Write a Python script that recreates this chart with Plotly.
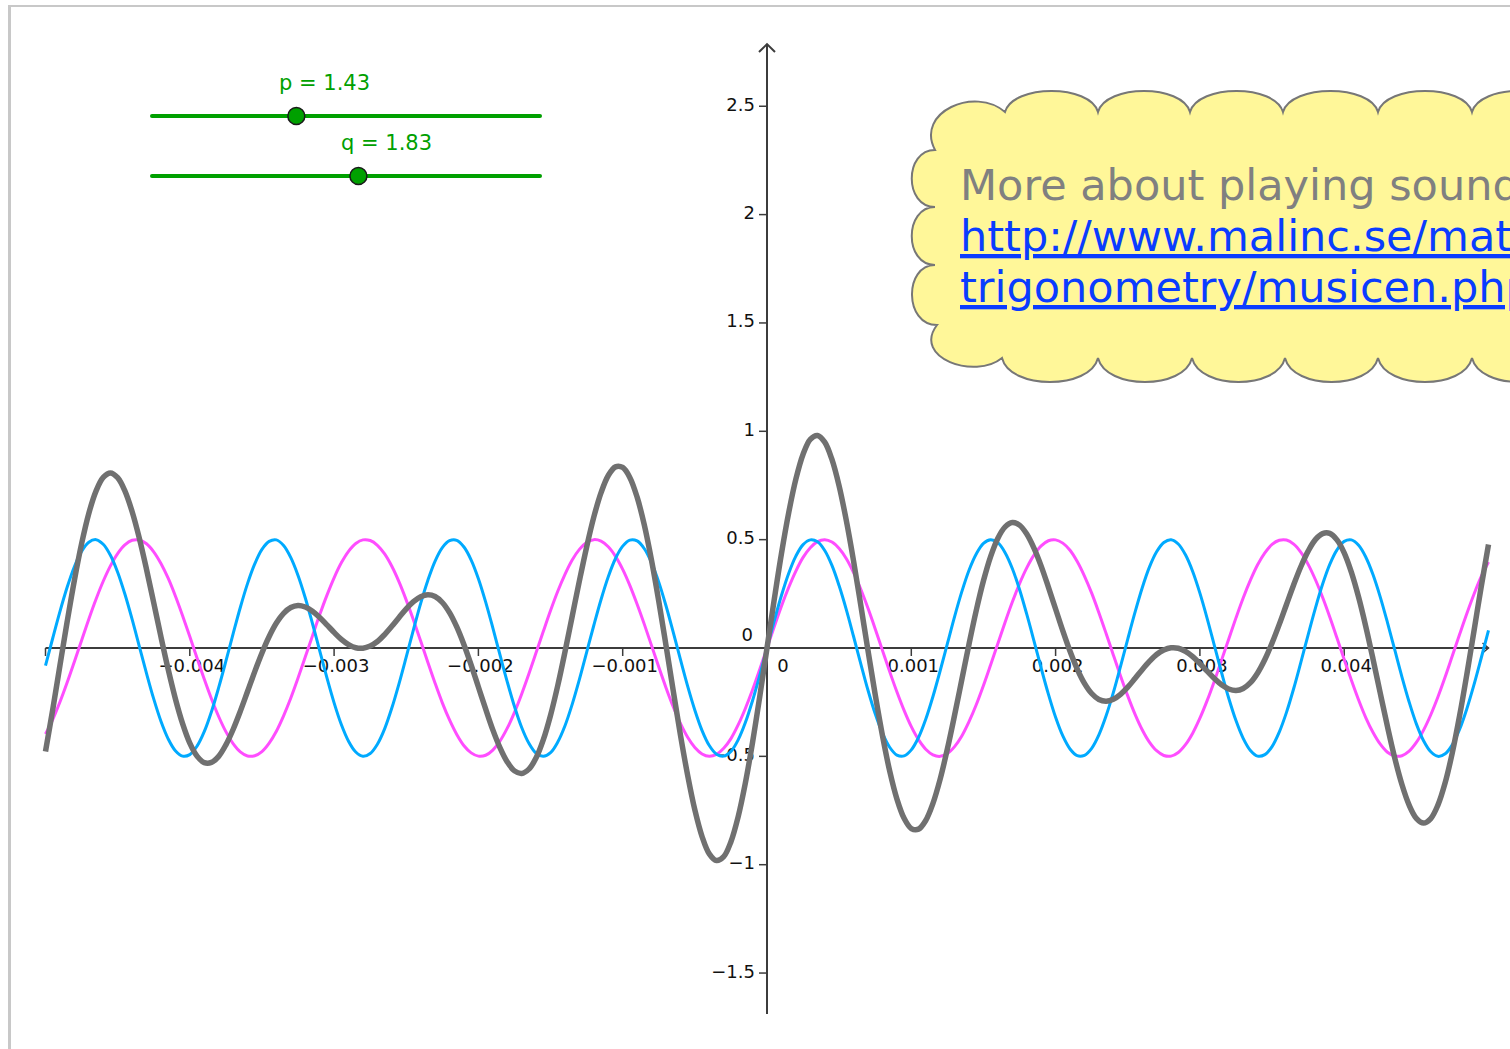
import plotly.graph_objects as go

# ---------------- data ----------------
t = [-0.00500, -0.00495, -0.00490, -0.00485, -0.00480, -0.00475, -0.00470, -0.00465, -0.00460, -0.00455,
     -0.00450, -0.00445, -0.00440, -0.00435, -0.00430, -0.00425, -0.00420, -0.00415, -0.00410, -0.00405,
     -0.00400, -0.00395, -0.00390, -0.00385, -0.00380, -0.00375, -0.00370, -0.00365, -0.00360, -0.00355,
     -0.00350, -0.00345, -0.00340, -0.00335, -0.00330, -0.00325, -0.00320, -0.00315, -0.00310, -0.00305,
     -0.00300, -0.00295, -0.00290, -0.00285, -0.00280, -0.00275, -0.00270, -0.00265, -0.00260, -0.00255,
     -0.00250, -0.00245, -0.00240, -0.00235, -0.00230, -0.00225, -0.00220, -0.00215, -0.00210, -0.00205,
     -0.00200, -0.00195, -0.00190, -0.00185, -0.00180, -0.00175, -0.00170, -0.00165, -0.00160, -0.00155,
     -0.00150, -0.00145, -0.00140, -0.00135, -0.00130, -0.00125, -0.00120, -0.00115, -0.00110, -0.00105,
     -0.00100, -0.00095, -0.00090, -0.00085, -0.00080, -0.00075, -0.00070, -0.00065, -0.00060, -0.00055,
     -0.00050, -0.00045, -0.00040, -0.00035, -0.00030, -0.00025, -0.00020, -0.00015, -0.00010, -0.00005,
     0.00000, 0.00005, 0.00010, 0.00015, 0.00020, 0.00025, 0.00030, 0.00035, 0.00040, 0.00045,
     0.00050, 0.00055, 0.00060, 0.00065, 0.00070, 0.00075, 0.00080, 0.00085, 0.00090, 0.00095,
     0.00100, 0.00105, 0.00110, 0.00115, 0.00120, 0.00125, 0.00130, 0.00135, 0.00140, 0.00145,
     0.00150, 0.00155, 0.00160, 0.00165, 0.00170, 0.00175, 0.00180, 0.00185, 0.00190, 0.00195,
     0.00200, 0.00205, 0.00210, 0.00215, 0.00220, 0.00225, 0.00230, 0.00235, 0.00240, 0.00245,
     0.00250, 0.00255, 0.00260, 0.00265, 0.00270, 0.00275, 0.00280, 0.00285, 0.00290, 0.00295,
     0.00300, 0.00305, 0.00310, 0.00315, 0.00320, 0.00325, 0.00330, 0.00335, 0.00340, 0.00345,
     0.00350, 0.00355, 0.00360, 0.00365, 0.00370, 0.00375, 0.00380, 0.00385, 0.00390, 0.00395,
     0.00400, 0.00405, 0.00410, 0.00415, 0.00420, 0.00425, 0.00430, 0.00435, 0.00440, 0.00445,
     0.00450, 0.00455, 0.00460, 0.00465, 0.00470, 0.00475, 0.00480, 0.00485, 0.00490, 0.00495,
     0.00500]

tone_p = [-0.397, -0.330, -0.249, -0.159, -0.063, 0.035, 0.133, 0.225, 0.308, 0.379,
          0.436, 0.476, 0.497, 0.498, 0.481, 0.444, 0.390, 0.322, 0.240, 0.149,
          0.053, -0.046, -0.143, -0.234, -0.316, -0.386, -0.441, -0.479, -0.498, -0.497,
          -0.478, -0.439, -0.384, -0.313, -0.231, -0.139, -0.042, 0.056, 0.153, 0.243,
          0.324, 0.393, 0.446, 0.482, 0.499, 0.496, 0.474, 0.434, 0.377, 0.305,
          0.221, 0.129, 0.032, -0.067, -0.163, -0.253, -0.332, -0.399, -0.451, -0.484,
          -0.499, -0.495, -0.471, -0.429, -0.370, -0.297, -0.212, -0.119, -0.021, 0.077,
          0.173, 0.262, 0.340, 0.406, 0.455, 0.487, 0.500, 0.493, 0.467, 0.423,
          0.363, 0.288, 0.202, 0.109, 0.011, -0.088, -0.183, -0.271, -0.348, -0.412,
          -0.459, -0.489, -0.500, -0.491, -0.463, -0.418, -0.355, -0.279, -0.193, -0.098,
          0.000, 0.098, 0.193, 0.279, 0.355, 0.418, 0.463, 0.491, 0.500, 0.489,
          0.459, 0.412, 0.348, 0.271, 0.183, 0.088, -0.011, -0.109, -0.202, -0.288,
          -0.363, -0.423, -0.467, -0.493, -0.500, -0.487, -0.455, -0.406, -0.340, -0.262,
          -0.173, -0.077, 0.021, 0.119, 0.212, 0.297, 0.370, 0.429, 0.471, 0.495,
          0.499, 0.484, 0.451, 0.399, 0.332, 0.253, 0.163, 0.067, -0.032, -0.129,
          -0.221, -0.305, -0.377, -0.434, -0.474, -0.496, -0.499, -0.482, -0.446, -0.393,
          -0.324, -0.243, -0.153, -0.056, 0.042, 0.139, 0.231, 0.313, 0.384, 0.439,
          0.478, 0.497, 0.498, 0.479, 0.441, 0.386, 0.316, 0.234, 0.143, 0.046,
          -0.053, -0.149, -0.240, -0.322, -0.390, -0.444, -0.481, -0.498, -0.497, -0.476,
          -0.436, -0.379, -0.308, -0.225, -0.133, -0.035, 0.063, 0.159, 0.249, 0.330,
          0.397]

tone_q = [-0.081, 0.045, 0.168, 0.280, 0.375, 0.446, 0.488, 0.500, 0.479, 0.428,
          0.350, 0.249, 0.133, 0.008, -0.117, -0.235, -0.338, -0.419, -0.474, -0.499,
          -0.492, -0.453, -0.386, -0.294, -0.183, -0.061, 0.065, 0.187, 0.297, 0.388,
          0.455, 0.492, 0.499, 0.473, 0.417, 0.335, 0.232, 0.113, -0.012, -0.137,
          -0.253, -0.353, -0.430, -0.480, -0.500, -0.487, -0.444, -0.373, -0.277, -0.164,
          -0.041, 0.085, 0.206, 0.313, 0.401, 0.463, 0.495, 0.497, 0.466, 0.406,
          0.320, 0.213, 0.093, -0.033, -0.156, -0.270, -0.367, -0.440, -0.486, -0.500,
          -0.483, -0.434, -0.359, -0.260, -0.145, -0.020, 0.105, 0.224, 0.329, 0.413,
          0.470, 0.498, 0.494, 0.458, 0.393, 0.304, 0.195, 0.073, -0.053, -0.176,
          -0.287, -0.381, -0.450, -0.490, -0.499, -0.477, -0.424, -0.344, -0.242, -0.125,
          0.000, 0.125, 0.242, 0.344, 0.424, 0.477, 0.499, 0.490, 0.450, 0.381,
          0.287, 0.176, 0.053, -0.073, -0.195, -0.304, -0.393, -0.458, -0.494, -0.498,
          -0.470, -0.413, -0.329, -0.224, -0.105, 0.020, 0.145, 0.260, 0.359, 0.434,
          0.483, 0.500, 0.486, 0.440, 0.367, 0.270, 0.156, 0.033, -0.093, -0.213,
          -0.320, -0.406, -0.466, -0.497, -0.495, -0.463, -0.401, -0.313, -0.206, -0.085,
          0.041, 0.164, 0.277, 0.373, 0.444, 0.487, 0.500, 0.480, 0.430, 0.353,
          0.253, 0.137, 0.012, -0.113, -0.232, -0.335, -0.417, -0.473, -0.499, -0.492,
          -0.455, -0.388, -0.297, -0.187, -0.065, 0.061, 0.183, 0.294, 0.386, 0.453,
          0.492, 0.499, 0.474, 0.419, 0.338, 0.235, 0.117, -0.008, -0.133, -0.249,
          -0.350, -0.428, -0.479, -0.500, -0.488, -0.446, -0.375, -0.280, -0.168, -0.045,
          0.081]

tone_sum = [-0.478, -0.285, -0.081, 0.121, 0.312, 0.481, 0.621, 0.724, 0.787, 0.808,
            0.786, 0.725, 0.630, 0.507, 0.363, 0.209, 0.052, -0.098, -0.234, -0.349,
            -0.439, -0.499, -0.529, -0.528, -0.500, -0.447, -0.376, -0.292, -0.201, -0.109,
            -0.023, 0.053, 0.115, 0.160, 0.187, 0.196, 0.189, 0.170, 0.141, 0.107,
            0.072, 0.040, 0.016, 0.001, -0.001, 0.009, 0.030, 0.062, 0.100, 0.141,
            0.181, 0.214, 0.237, 0.246, 0.238, 0.210, 0.163, 0.097, 0.015, -0.079,
            -0.180, -0.281, -0.378, -0.461, -0.526, -0.567, -0.579, -0.559, -0.507, -0.423,
            -0.310, -0.173, -0.018, 0.146, 0.310, 0.466, 0.605, 0.717, 0.796, 0.836,
            0.833, 0.786, 0.696, 0.567, 0.404, 0.216, 0.012, -0.197, -0.401, -0.587,
            -0.747, -0.870, -0.950, -0.981, -0.963, -0.894, -0.779, -0.623, -0.435, -0.223,
            0.000, 0.223, 0.435, 0.623, 0.779, 0.894, 0.963, 0.981, 0.950, 0.870,
            0.747, 0.587, 0.401, 0.197, -0.012, -0.216, -0.404, -0.567, -0.696, -0.786,
            -0.833, -0.836, -0.796, -0.717, -0.605, -0.466, -0.310, -0.146, 0.018, 0.173,
            0.310, 0.423, 0.507, 0.559, 0.579, 0.567, 0.526, 0.461, 0.378, 0.281,
            0.180, 0.079, -0.015, -0.097, -0.163, -0.210, -0.238, -0.246, -0.237, -0.214,
            -0.181, -0.141, -0.100, -0.062, -0.030, -0.009, 0.001, -0.001, -0.016, -0.040,
            -0.072, -0.107, -0.141, -0.170, -0.189, -0.196, -0.187, -0.160, -0.115, -0.053,
            0.023, 0.109, 0.201, 0.292, 0.376, 0.447, 0.500, 0.528, 0.529, 0.499,
            0.439, 0.349, 0.234, 0.098, -0.052, -0.209, -0.363, -0.507, -0.630, -0.725,
            -0.786, -0.808, -0.787, -0.724, -0.621, -0.481, -0.312, -0.121, 0.081, 0.285,
            0.478]

x_ticks = [-0.004, -0.003, -0.002, -0.001, 0, 0.001, 0.002, 0.003, 0.004]
x_tick_labels = ["−0.004", "−0.003", "−0.002", "−0.001", "0", "0.001", "0.002", "0.003", "0.004"]
y_ticks = [-1.5, -1, -0.5, 0, 0.5, 1, 1.5, 2, 2.5]
y_tick_labels = ["−1.5", "−1", "−0.5", "0", "0.5", "1", "1.5", "2", "2.5"]

slider_names = ["p", "q"]
slider_values = [1.43, 1.83]
slider_min = 0.5
slider_max = 3.0

cloud_title = "More about playing sound"
cloud_link_lines = ["http://www.malinc.se/math/", "trigonometry/musicen.php"]

# ---------------- geometry / style ----------------
W, H = 1510, 1049
X0PX, Y0PX = 767.0, 648.0       # pixel position of the origin
XS, YS = 144300.0, 216.7        # pixels per unit
X_DOMAIN = (-0.005, 0.005)
Y_AXIS_SPAN = (-1.689, 2.787)

def dx(p):
    return p / XS

def dy(p):
    return p / YS

def px_x(px):
    return px / W

def px_y(py):
    return 1 - py / H

AXIS_COLOR = "#3c3c3c"
GREEN = "#00a000"
FONT = "DejaVu Sans"

fig = go.Figure()

# tick labels (drawn under the curves)
xl_x = [v + (dx(16) if v == 0 else dx(2)) for v in x_ticks]
xl_y = [-dy(19) for _ in x_ticks]
fig.add_trace(go.Scatter(x=xl_x, y=xl_y, text=x_tick_labels, mode="text",
                         textposition="middle center",
                         textfont=dict(family=FONT, size=18, color="#111111"),
                         hoverinfo="skip", showlegend=False, cliponaxis=False))
yl_x = [-(dx(14) if v == 0 else dx(12)) for v in y_ticks]
yl_y = [(dy(12) if v == 0 else v) for v in y_ticks]
fig.add_trace(go.Scatter(x=yl_x, y=yl_y, text=y_tick_labels, mode="text",
                         textposition="middle left",
                         textfont=dict(family=FONT, size=18, color="#111111"),
                         hoverinfo="skip", showlegend=False, cliponaxis=False))

# curves
fig.add_trace(go.Scatter(x=t, y=tone_p, mode="lines", name="p",
                         line=dict(color="#ff4dff", width=3, shape="spline", smoothing=1),
                         showlegend=False, hoverinfo="skip"))
fig.add_trace(go.Scatter(x=t, y=tone_q, mode="lines", name="q",
                         line=dict(color="#00aaff", width=3, shape="spline", smoothing=1),
                         showlegend=False, hoverinfo="skip"))
fig.add_trace(go.Scatter(x=t, y=tone_sum, mode="lines", name="p+q",
                         line=dict(color="#707070", width=5.5, shape="spline", smoothing=1),
                         showlegend=False, hoverinfo="skip"))

shapes = []
# axes
shapes.append(dict(type="line", xref="x", yref="y", layer="below",
                   x0=X_DOMAIN[0], x1=X_DOMAIN[1], y0=0, y1=0,
                   line=dict(color=AXIS_COLOR, width=2)))
shapes.append(dict(type="line", xref="x", yref="y", layer="below",
                   x0=0, x1=0, y0=Y_AXIS_SPAN[0], y1=Y_AXIS_SPAN[1],
                   line=dict(color=AXIS_COLOR, width=2)))
# y-axis arrow
shapes.append(dict(type="path", xref="x", yref="y", layer="below",
                   path=f"M {-dx(8)},{Y_AXIS_SPAN[1]-dy(8)} L 0,{Y_AXIS_SPAN[1]} L {dx(8)},{Y_AXIS_SPAN[1]-dy(8)}",
                   line=dict(color=AXIS_COLOR, width=2)))
# x-axis small arrow at the right end
shapes.append(dict(type="path", xref="x", yref="y", layer="below",
                   path=f"M {X_DOMAIN[1]-dx(6)},{dy(5)} L {X_DOMAIN[1]},0 L {X_DOMAIN[1]-dx(6)},{-dy(5)}",
                   line=dict(color=AXIS_COLOR, width=1.5)))
# tick marks
for v in x_ticks + [X_DOMAIN[0]]:
    if v == 0:
        continue
    shapes.append(dict(type="line", xref="x", yref="y", layer="below",
                       x0=v, x1=v, y0=0, y1=-dy(8),
                       line=dict(color=AXIS_COLOR, width=1.5)))
for v in y_ticks:
    if v == 0:
        continue
    shapes.append(dict(type="line", xref="x", yref="y", layer="below",
                       x0=-dx(8), x1=0, y0=v, y1=v,
                       line=dict(color=AXIS_COLOR, width=1.5)))

# frame of the graphics view
shapes.append(dict(type="line", xref="paper", yref="paper", x0=px_x(9.5), x1=px_x(9.5),
                   y0=px_y(5), y1=0, line=dict(color="#c8c8c8", width=3)))
shapes.append(dict(type="line", xref="paper", yref="paper", x0=px_x(8), x1=1,
                   y0=px_y(6), y1=px_y(6), line=dict(color="#c8c8c8", width=2)))

# sliders
annotations = []
SL_X0, SL_X1 = 152, 540
SL_Y = [116, 176]
for name, val, sy in zip(slider_names, slider_values, SL_Y):
    shapes.append(dict(type="line", xref="paper", yref="paper",
                       x0=px_x(SL_X0), x1=px_x(SL_X1), y0=px_y(sy), y1=px_y(sy),
                       line=dict(color=GREEN, width=4)))
    for ex in (SL_X0, SL_X1):
        shapes.append(dict(type="circle", xref="paper", yref="paper",
                           x0=px_x(ex - 2), x1=px_x(ex + 2), y0=px_y(sy + 2), y1=px_y(sy - 2),
                           fillcolor=GREEN, line=dict(width=0)))
    cx = SL_X0 + (val - slider_min) / (slider_max - slider_min) * (SL_X1 - SL_X0)
    r = 8.5
    shapes.append(dict(type="circle", xref="paper", yref="paper",
                       x0=px_x(cx - r), x1=px_x(cx + r), y0=px_y(sy + r), y1=px_y(sy - r),
                       fillcolor=GREEN, line=dict(color="#1a1a1a", width=1.5)))
    annotations.append(dict(xref="paper", yref="paper", x=px_x(cx + 28), y=px_y(sy - 33),
                            xanchor="center", yanchor="middle", showarrow=False,
                            text=f"{name} = {val}",
                            font=dict(family=FONT, size=21, color=GREEN)))

# cloud
def P(a, b):
    return f"{px_x(a):.5f},{px_y(b):.5f}"

top = [1005, 1098, 1190, 1283, 1378, 1472, 1565, 1658]
bot = [1658, 1565, 1472, 1378, 1285, 1192, 1098, 1002]
path = "M " + P(top[0], 112)
for a, b in zip(top[:-1], top[1:]):
    path += f" C {P(a + 8, 84)} {P(b - 8, 84)} {P(b, 112)}"
path += " L " + P(top[-1], 358)
for a, b in zip(bot[:-1], bot[1:]):
    path += f" C {P(a - 8, 390)} {P(b + 8, 390)} {P(b, 358)}"
path += f" C {P(975, 380)} {P(912, 358)} {P(937, 325)}"
left = [325, 265, 207, 150]
for a, b in zip(left[:-1], left[1:]):
    path += f" C {P(904, a)} {P(904, b)} {P(935, b)}"
path += f" C {P(915, 112)} {P(975, 86)} {P(1005, 112)} Z"
shapes.append(dict(type="path", xref="paper", yref="paper", path=path,
                   fillcolor="#fff799", line=dict(color="#777777", width=2)))

annotations.append(dict(xref="paper", yref="paper", x=px_x(958), y=px_y(185),
                        xanchor="left", yanchor="middle", showarrow=False,
                        text=cloud_title, font=dict(family=FONT, size=43, color="#808080")))
for i, line in enumerate(cloud_link_lines):
    annotations.append(dict(xref="paper", yref="paper", x=px_x(958), y=px_y(236 + 51 * i),
                            xanchor="left", yanchor="middle", showarrow=False,
                            text=f"<u>{line}</u>",
                            font=dict(family=FONT, size=43, color="#0a3cff")))

fig.update_layout(
    width=W, height=H,
    margin=dict(l=0, r=0, t=0, b=0, pad=0),
    paper_bgcolor="white", plot_bgcolor="white",
    xaxis=dict(range=[(0 - X0PX) / XS, (W - X0PX) / XS], visible=False, fixedrange=True),
    yaxis=dict(range=[(Y0PX - H) / YS, Y0PX / YS], visible=False, fixedrange=True),
    shapes=shapes, annotations=annotations, showlegend=False,
)

fig.write_html("out.html", config={"displayModeBar": False},
               post_script="document.body.style.margin='0';document.body.style.overflow='hidden';")
